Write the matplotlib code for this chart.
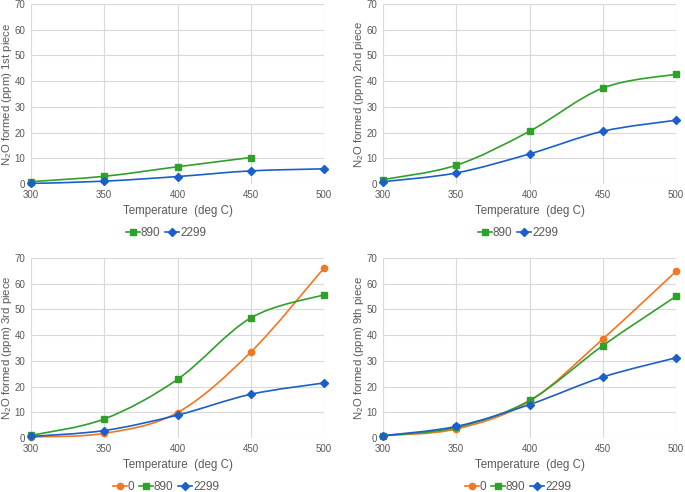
import numpy as np
import matplotlib
matplotlib.use("Agg")
import matplotlib.pyplot as plt
from matplotlib.path import Path
from matplotlib.patches import PathPatch
from matplotlib.lines import Line2D

plt.rcParams['font.family'] = ['Liberation Sans', 'DejaVu Sans']
plt.rcParams['mathtext.fontset'] = 'custom'
plt.rcParams['mathtext.rm'] = 'Liberation Sans'
plt.rcParams['mathtext.default'] = 'rm'

temps = [300, 350, 400, 450, 500]

# readings per piece, N2O formed (ppm)
p1_890 = [0.9, 3.0, 6.7, 10.3]
p1_2299 = [0.2, 1.1, 2.9, 5.1, 5.9]

p2_890 = [1.7, 7.3, 20.5, 37.3, 42.7]
p2_2299 = [0.9, 4.3, 11.7, 20.5, 24.8]

p3_0 = [0.4, 1.8, 9.9, 33.4, 66.1]
p3_890 = [1.0, 7.4, 22.8, 46.7, 55.7]
p3_2299 = [0.6, 2.9, 8.9, 17.0, 21.4]

p9_0 = [0.9, 3.5, 14.3, 38.5, 64.8]
p9_890 = [0.9, 4.1, 14.6, 35.9, 55.1]
p9_2299 = [0.9, 4.5, 13.0, 23.7, 31.2]

labels = ['0', '890', '2299']
colors = {'0': '#F4761F', '890': '#2FA02A', '2299': '#1A5FCC'}
markers = {'0': 'o', '890': 's', '2299': 'D'}
msize = {'0': 4.5, '890': 4.5, '2299': 4}

grey = '#595959'


def smooth_path(x, y):
    # bezier path through the points (Excel style smoothing)
    pts = np.column_stack([x, y]).astype(float)
    n = len(pts)
    verts = [pts[0]]
    codes = [Path.MOVETO]
    for i in range(n - 1):
        p0 = pts[i - 1] if i > 0 else pts[i]
        p1 = pts[i]
        p2 = pts[i + 1]
        p3 = pts[i + 2] if i + 2 < n else pts[i + 1]
        c1 = p1 + (p2 - p0) / 6.0
        c2 = p2 - (p3 - p1) / 6.0
        verts += [c1, c2, p2]
        codes += [Path.CURVE4] * 3
    return Path(verts, codes)


def panel(rect, title, series):
    ax = fig.add_axes(rect)
    for lab, vals in series:
        xs = temps[:len(vals)]
        ax.add_patch(PathPatch(smooth_path(xs, vals), fill=False,
                               edgecolor=colors[lab], lw=1.2, zorder=3))
        ax.plot(xs, vals, ls='none', marker=markers[lab], ms=msize[lab],
                color=colors[lab], zorder=4, clip_on=False)
    ax.set_xlim(300, 500)
    ax.set_ylim(0, 70)
    ax.set_xticks(temps)
    ax.set_yticks(range(0, 71, 10))
    ax.grid(True, color='#d9d9d9', lw=0.8)
    ax.set_axisbelow(True)
    for s in ax.spines.values():
        s.set_visible(False)
    ax.tick_params(length=0, labelsize=7, colors=grey, pad=4)
    ax.set_xlabel('Temperature  (deg C)', fontsize=8.3, color=grey, labelpad=4)
    ax.set_ylabel('N$_2$O formed (ppm) ' + title, fontsize=8.2, color=grey)
    ax.yaxis.set_label_coords(-0.058, 0.5)
    handles = [Line2D([], [], color=colors[lab], marker=markers[lab],
                      ms=msize[lab], lw=1.2) for lab, _ in series]
    ax.legend(handles, [lab for lab, _ in series], loc='center',
              bbox_to_anchor=(0.46, -0.275), ncol=len(series), frameon=False,
              fontsize=8.5, handlelength=1.2, handletextpad=0.1,
              columnspacing=0.35, labelcolor=grey)
    return ax


fig = plt.figure(figsize=(6.85, 4.92), dpi=100)

w = 293 / 685
h = 180 / 492
panel([31 / 685, 308 / 492, w, h], '1st piece',
      [('890', p1_890), ('2299', p1_2299)])
panel([383 / 685, 308 / 492, w, h], '2nd piece',
      [('890', p2_890), ('2299', p2_2299)])
panel([31 / 685, 54 / 492, w, h], '3rd piece',
      [('0', p3_0), ('890', p3_890), ('2299', p3_2299)])
panel([383 / 685, 54 / 492, w, h], '9th piece',
      [('0', p9_0), ('890', p9_890), ('2299', p9_2299)])

fig.savefig('out.png', dpi=100)
